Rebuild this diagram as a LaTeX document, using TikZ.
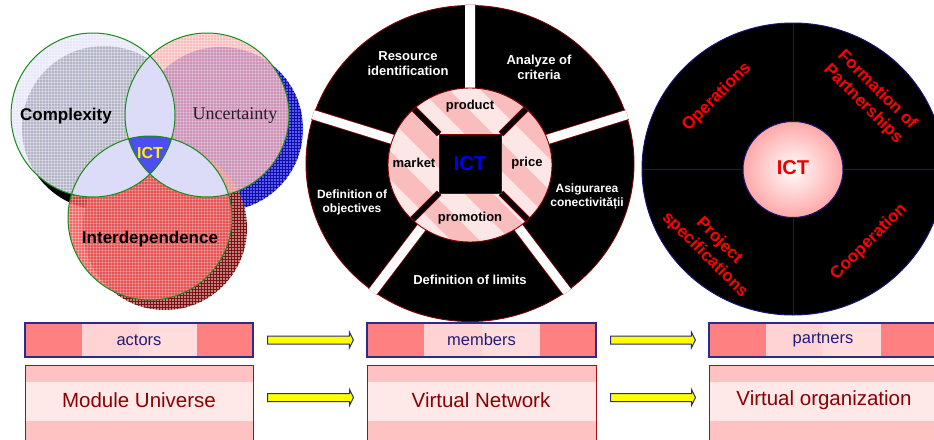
\documentclass[tikz,border=0pt]{standalone}
\usepackage{fontspec}
\setmainfont{Liberation Sans}
\newfontfamily\uncfont{Liberation Serif}
\usetikzlibrary{patterns,calc}
\definecolor{lavM}{HTML}{E2E2FA}
\definecolor{lav}{HTML}{DCDCF8}
\definecolor{pinkM}{HTML}{F8A6A6}
\definecolor{redM}{HTML}{F04A4A}
\definecolor{blueS}{HTML}{5A5AF2}
\definecolor{blueG}{HTML}{1010A8}
\definecolor{redS}{HTML}{C48080}
\definecolor{redG}{HTML}{7A1414}
\definecolor{vgreen}{HTML}{1A8A1A}
\definecolor{tripleB}{HTML}{4E4EEE}
\definecolor{uncT}{HTML}{2A1A2A}
\definecolor{dred}{HTML}{800000}
\definecolor{ringL}{HTML}{FDE6E6}
\definecolor{ringD}{HTML}{F9BDBD}
\definecolor{ictB}{HTML}{0000F0}
\definecolor{navyL}{HTML}{15157A}
\definecolor{ictR}{HTML}{E80000}
\definecolor{labR}{HTML}{FF0000}
\definecolor{barD}{HTML}{FF8080}
\definecolor{barL}{HTML}{FFD3D3}
\definecolor{barL2}{HTML}{FFDDDD}
\definecolor{navyB}{HTML}{2B2B8C}
\definecolor{navyT}{HTML}{1E1E7A}
\definecolor{bandD}{HTML}{FFC2C2}
\definecolor{bandL}{HTML}{FFE8E8}
\definecolor{boxR}{HTML}{A01010}
\definecolor{txtR}{HTML}{8B0000}
\definecolor{arrY}{HTML}{FFFF00}
\definecolor{arrB}{HTML}{2A2A8A}
\pgfdeclareradialshading{ictball}{\pgfpoint{0bp}{0bp}}{rgb(0bp)=(1,0.98,0.98); rgb(10bp)=(1,0.86,0.86); rgb(50bp)=(1,0.32,0.32); rgb(100bp)=(1,0.32,0.32)}
\newcommand\blkarrow[3]{%
 \filldraw[fill=arrY, draw=arrB, line width=1pt, line join=miter]
 ($(#1.east)+(14,#3-4)$) -- ($(#2.west)+(-17,#3-4)$) -- ($(#2.west)+(-17,#3-8)$) -- ($(#2.west)+(-13,#3)$) -- ($(#2.west)+(-17,#3+8)$) -- ($(#2.west)+(-17,#3+4)$) -- ($(#1.east)+(14,#3+4)$) -- cycle;}
\tikzset{
 vlab/.style={font=\bfseries\fontsize{17}{20}\selectfont},
 sect/.style={text=white, align=center, font=\bfseries\fontsize{13}{15}\selectfont},
 sects/.style={text=white, align=center, font=\bfseries\fontsize{12}{14}\selectfont},
 ringlab/.style={font=\bfseries\fontsize{13}{15}\selectfont},
 qlab/.style={text=labR, align=center, font=\bfseries\fontsize{17}{20}\selectfont},
 bar1/.style={draw=navyB, line width=1.3pt, minimum height=34pt, minimum width=228pt, inner sep=0pt, text=navyT, font=\fontsize{16.5}{19}\selectfont,
  path picture={
   \fill[barD] (path picture bounding box.south west) rectangle (path picture bounding box.north east);
   \fill[barL] ($(path picture bounding box.north west)+(57,0)$) rectangle (path picture bounding box.south);
   \fill[barL2] (path picture bounding box.north) rectangle ($(path picture bounding box.south east)+(-56,0)$);
  }},
 bar2/.style={draw=boxR, line width=1pt, minimum height=80pt, minimum width=228pt, inner sep=0pt,
  path picture={
   \fill[bandD] (path picture bounding box.south west) rectangle (path picture bounding box.north east);
   \fill[bandL] ($(path picture bounding box.north west)+(0,17)$) rectangle ($(path picture bounding box.north east)+(0,56)$);
  }},
 bar2txt/.style={text=txtR, font=\fontsize{20.5}{24}\selectfont},
}
\begin{document}
\begin{tikzpicture}[x=1pt,y=-1pt]
\useasboundingbox (0,0) rectangle (934,439);
% ---------- Venn: shadows
\fill[black] (104,128) circle (82);
\fill[blueS] (221,129) circle (82);
\fill[pattern=grid, pattern color=blueG] (221,129) circle (82);
\fill[redS] (165,228) circle (82);
\fill[pattern=grid, pattern color=redG] (165,228) circle (82);
% main circles
\fill[lavM, opacity=.8] (93,115) circle (82);
\fill[pinkM, opacity=.75] (207,115) circle (82);
\fill[redM, opacity=.85] (150,218) circle (82);
\fill[pattern=grid, pattern color=white, opacity=.35] (93,115) circle (82);
\fill[pattern=grid, pattern color=white, opacity=.35] (207,115) circle (82);
\fill[pattern=grid, pattern color=white, opacity=.3] (150,218) circle (82);
% lenses
\begin{scope}
 \clip (93,115) circle (82);
 \fill[lav] (207,115) circle (82);
 \fill[lav] (150,218) circle (82);
\end{scope}
\begin{scope}
 \clip (207,115) circle (82);
 \fill[lav] (150,218) circle (82);
\end{scope}
\begin{scope}
 \clip (93,115) circle (82);
 \clip (207,115) circle (82);
 \fill[tripleB] (150,218) circle (82);
\end{scope}
\draw[vgreen, line width=1pt] (93,115) circle (82) (207,115) circle (82) (150,218) circle (82);
\node[vlab] (cx) at (66,116) {Complexity};
\node[text=uncT, font=\uncfont\fontsize{18}{21}\selectfont] (un) at (235,115) {Uncertainty};
\node[text=yellow, font=\bfseries\fontsize{16}{19}\selectfont] (ict1) at (150,153) {ICT};
\node[vlab] (int) at (150,239) {Interdependence};
% ---------- middle wheel
\fill[black] (470,163.5) ellipse [x radius=164, y radius=158];
\draw[dred, line width=0.9pt] (470,163.5) ellipse [x radius=164, y radius=158];
\begin{scope}
 \clip (470,163.5) ellipse [x radius=165, y radius=159];
 \foreach \a in {90,18,-54,-126,162} {
  \draw[dred, line width=11pt] (470,163.5) -- ({470+240*cos(\a)},{163.5-230*sin(\a)});
  \draw[white, line width=9.3pt] (470,163.5) -- ({470+240*cos(\a)},{163.5-230*sin(\a)});
 }
\end{scope}
\begin{scope}
 \clip (470,165) ellipse [x radius=82, y radius=77];
 \fill[ringL] (370,60) rectangle (570,270);
 \foreach \s in {-260,-200,...,260} \draw[ringD, line width=20pt] ({470+\s-130},35) -- ({470+\s+130},295);
 \foreach \cx/\cy/\dx/\dy in {439/134/-1/-1, 501/134/1/-1, 501/193/1/1, 439/193/-1/1} {
  \draw[dred, line width=6.5pt] (\cx,\cy) -- ++({70*\dx},{70*\dy});
  \draw[black, line width=4.5pt] (\cx,\cy) -- ++({70*\dx},{70*\dy});
 }
\end{scope}
\draw[dred, line width=0.9pt] (470,165) ellipse [x radius=82, y radius=77];
\node[fill=black, draw=dred, line width=0.9pt, minimum width=62pt, minimum height=59pt, inner sep=0pt, text=ictB, font=\bfseries\fontsize{20}{24}\selectfont] (ict2) at (470,163.5) {ICT};
\node[ringlab] (prod) at (470,106) {product};
\node[ringlab] (price) at (527,163) {price};
\node[ringlab] (promo) at (470,218) {promotion};
\node[ringlab] (market) at (414,163) {market};
\node[sect] (res) at (408,64) {Resource\\identification};
\node[sect] (ana) at (539,67) {Analyze of\\criteria};
\node[sects] (asi) at (587,197) {Asigurarea\\conectivității};
\node[sect] (lim) at (470,280) {Definition of limits};
\node[sects] (obj) at (352,202) {Definition of\\objectives};
% ---------- right wheel
\fill[black] (793,169) ellipse [x radius=151, y radius=146];
\draw[navyL, line width=1pt] (793,169) ellipse [x radius=151, y radius=146];
\draw[navyL, line width=0.8pt] (793,23) -- (793,315);
\draw[navyL, line width=0.8pt] (642,169) -- (944,169);
\shade[shading=ictball] (793,169.5) ellipse [x radius=50, y radius=48];
\draw[navyL, line width=1pt] (793,169.5) ellipse [x radius=50, y radius=48];
\node[text=ictR, font=\bfseries\fontsize{20}{24}\selectfont] (ict3) at (793,168) {ICT};
\node[qlab, rotate=45] (op) at (717,97) {Operations};
\node[qlab, rotate=-45] (fp) at (870,97) {Formation of\\Partnerships};
\node[qlab, rotate=-45] (ps) at (712,248) {Project\\specifications};
\node[qlab, rotate=45] (co) at (869,242) {Cooperation};
% ---------- bottom rows
\node[bar1] (actors) at (139,340) {actors};
\node[bar1, minimum width=229pt] (members) at (481.5,340) {members};
\node[bar1] (partners) at (823,340) {partners};
\node[bar2] (mub) at (139,405) {};
\node[bar2, minimum width=229pt] (vnb) at (481.5,405) {};
\node[bar2] (vob) at (823,405) {};
\node[bar2txt] (mu) at (139,400) {Module Universe};
\node[bar2txt] (vn) at (481,400) {Virtual Network};
\node[bar2txt] (vo) at (824,400) {Virtual organization};
\blkarrow{actors}{members}{0}
\blkarrow{members}{partners}{0}
\blkarrow{mub}{vnb}{-7.5}
\blkarrow{vnb}{vob}{-7.5}
\end{tikzpicture}
\end{document}
